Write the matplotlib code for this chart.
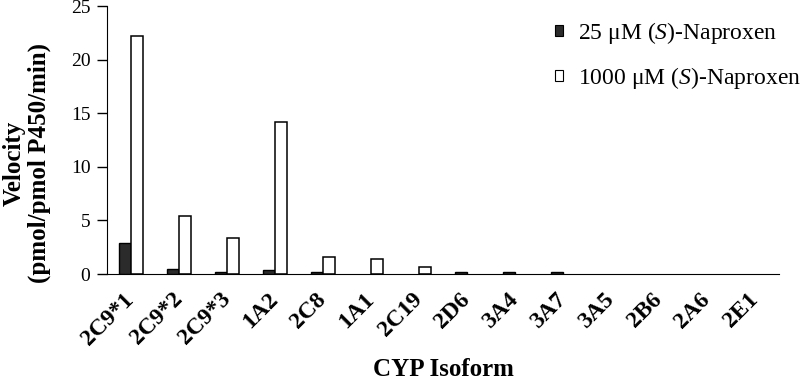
import matplotlib
matplotlib.use("Agg")
import matplotlib.pyplot as plt
import matplotlib.patches as patches
import numpy as np

isoforms = ["2C9*1", "2C9*2", "2C9*3", "1A2", "2C8", "1A1", "2C19",
            "2D6", "3A4", "3A7", "3A5", "2B6", "2A6", "2E1"]
low_conc = [2.9, 0.5, 0.15, 0.33, 0.15, 0.0, 0.0,
            0.15, 0.15, 0.15, 0.0, 0.0, 0.0, 0.0]
high_conc = [22.2, 5.45, 3.35, 14.2, 1.6, 1.4, 0.62,
             0.0, 0.0, 0.0, 0.0, 0.0, 0.0, 0.0]
yticks = [0, 5, 10, 15, 20, 25]

plt.rcParams['font.family'] = ['Liberation Serif', 'DejaVu Serif']
plt.rcParams['mathtext.fontset'] = 'custom'
plt.rcParams['mathtext.rm'] = 'Liberation Serif'
plt.rcParams['mathtext.it'] = 'Liberation Serif:italic'

fig = plt.figure(figsize=(8.06, 3.81), dpi=100)
ax = fig.add_axes([0.1328, 0.2808, 0.8337, 0.7032])

x = np.arange(len(isoforms))
w = 0.25
lw_low = [1.0 if v > 0 else 0 for v in low_conc]
lw_high = [1.1 if v > 0 else 0 for v in high_conc]
ax.bar(x - w/2, low_conc, w, color='#2b2b2b', edgecolor='black', linewidth=lw_low)
ax.bar(x + w/2, high_conc, w, color='white', edgecolor='black', linewidth=lw_high)

ax.set_xlim(-0.5, len(isoforms) - 0.5)
ax.set_ylim(0, 25)
ax.set_yticks(yticks)
ax.tick_params(axis='y', direction='out', length=7, pad=5, labelsize=14, width=1)
ax.set_xticks(x)
ax.set_xticklabels(isoforms, rotation=45, ha='right', va='center',
                   rotation_mode='anchor', fontweight='bold', fontsize=17)
ax.tick_params(axis='x', length=0, pad=16)
for s in ['top', 'right']:
    ax.spines[s].set_visible(False)

fig.text(27/806, 1 - 163/381, "Velocity\n(pmol/pmol P450/min)", rotation=90,
         ha='center', va='center', fontweight='bold', fontsize=18,
         linespacing=1.1)
fig.text(443/806, 1 - 370/381, "CYP Isoform", ha='center', va='center',
         fontweight='bold', fontsize=18)

h1 = patches.Patch(facecolor='#2b2b2b', edgecolor='black', linewidth=0.8)
h2 = patches.Patch(facecolor='white', edgecolor='black', linewidth=0.8)
fig.legend([h1, h2], [r"25 μM $\mathit{(S)}$-Naproxen", r"1000 μM $\mathit{(S)}$-Naproxen"],
           loc='upper left', bbox_to_anchor=(555/806, 1 - 20/381), frameon=False,
           fontsize=17, handlelength=0.34, handleheight=0.34, labelspacing=0.8,
           handletextpad=0.64, borderpad=0, borderaxespad=0)

plt.savefig("out.png", dpi=100)
